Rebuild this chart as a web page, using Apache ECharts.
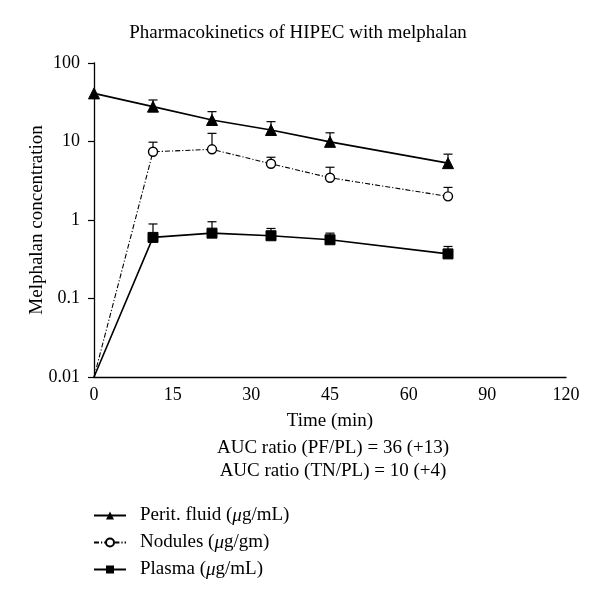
<!DOCTYPE html>
<html>
<head>
<meta charset="utf-8">
<script src="https://cdn.jsdelivr.net/npm/echarts@6/dist/echarts.min.js"></script>
<style>html,body{margin:0;padding:0;background:#fff}#c{width:600px;height:600px}</style>
</head>
<body>
<div id="c"></div>
<script>
// ---- data ----
const times = [0, 15, 30, 45, 60, 90];
const xTickLabels = ['0', '15', '30', '45', '60', '90', '120'];
const yTickLabels = ['0.01', '0.1', '1', '10', '100'];
const seriesNames = ['Perit. fluid (μg/mL)', 'Nodules (μg/gm)', 'Plasma (μg/mL)'];
const peritFluid = [41, 27.8, 18.8, 14.0, 9.9, 5.3];
const peritFluidUpper = [null, 33.8, 24.0, 17.9, 12.9, 6.9];
const nodules = [0.01, 7.4, 7.95, 5.2, 3.45, 2.0];
const nodulesUpper = [null, 9.8, 12.7, 6.3, 4.7, 2.6];
const plasma = [0.01, 0.60, 0.68, 0.63, 0.56, 0.37];
const plasmaUpper = [null, 0.89, 0.95, 0.78, 0.68, 0.46];
const aucLines = ['AUC ratio (PF/PL) = 36 (+13)', 'AUC ratio (TN/PL) = 10 (+4)'];

const FONT = 'Liberation Serif';

function lineData(vals, hideZeroMarker) {
  return times.map((t, i) => {
    const item = { value: [t, vals[i]] };
    if (hideZeroMarker && i === 0) item.symbol = 'none';
    return item;
  });
}
function errData(upper, vals) {
  const out = [];
  times.forEach((t, i) => { if (upper[i] != null) out.push([t, vals[i], upper[i]]); });
  return out;
}
function errSeries(upper, vals) {
  return {
    type: 'custom',
    silent: true,
    z: 1,
    data: errData(upper, vals),
    renderItem: function (params, api) {
      const p = api.coord([api.value(0), api.value(1)]);
      const t = api.coord([api.value(0), api.value(2)]);
      const st = { stroke: '#000', lineWidth: 1.2 };
      return {
        type: 'group',
        children: [
          { type: 'line', shape: { x1: p[0], y1: p[1], x2: t[0], y2: t[1] }, style: st },
          { type: 'line', shape: { x1: t[0] - 4.5, y1: t[1], x2: t[0] + 4.5, y2: t[1] }, style: st }
        ]
      };
    }
  };
}

const chart = echarts.init(document.getElementById('c'), null, { renderer: 'canvas' });
chart.setOption({
  animation: false,
  backgroundColor: '#fff',
  textStyle: { fontFamily: FONT, color: '#000' },
  title: {
    text: 'Pharmacokinetics of HIPEC with melphalan',
    left: 293, top: 19, textAlign: 'center',
    textStyle: { fontFamily: FONT, fontSize: 19, fontWeight: 'normal', color: '#000' }
  },
  grid: { left: 94, right: 34, top: 63, bottom: 223, containLabel: false },
  xAxis: {
    type: 'value', min: 0, max: 120, interval: 20,
    name: 'Time (min)', nameLocation: 'middle', nameGap: 35,
    nameTextStyle: { fontFamily: FONT, fontSize: 19, color: '#000' },
    axisLine: { lineStyle: { color: '#000', width: 1.3 } },
    axisTick: { show: false },
    splitLine: { show: false },
    axisLabel: {
      fontFamily: FONT, fontSize: 18, color: '#000', margin: 9,
      formatter: v => xTickLabels[Math.round(v / 20)]
    }
  },
  yAxis: {
    type: 'log', logBase: 10, min: 0.01, max: 100,
    name: 'Melphalan concentration', nameLocation: 'middle', nameGap: 47,
    nameMoveOverlap: false,
    nameTextStyle: { fontFamily: FONT, fontSize: 19, color: '#000' },
    axisLine: { show: true, lineStyle: { color: '#000', width: 1.3 } },
    axisTick: { show: true, length: 6, lineStyle: { color: '#000', width: 1.2 } },
    splitLine: { show: false },
    minorTick: { show: false },
    axisLabel: {
      fontFamily: FONT, fontSize: 18, color: '#000', margin: 14,
      formatter: v => yTickLabels[Math.round(Math.log10(v)) + 2]
    }
  },
  legend: {
    orient: 'vertical', left: 88, top: 501, itemWidth: 32, itemHeight: 10, itemGap: 8,
    data: seriesNames,
    textStyle: {
      fontFamily: FONT, fontSize: 19, color: '#000', lineHeight: 19, padding: [0, 0, 0, 9],
      rich: { i: { fontFamily: FONT, fontStyle: 'italic', fontSize: 19 } }
    },
    formatter: n => n.replace('μ', '{i|μ}')
  },
  graphic: aucLines.map((s, i) => ({
    type: 'text', x: 333, y: 448 + i * 23,
    style: { text: s, font: '19px "' + FONT + '"', fill: '#000', textAlign: 'center', textVerticalAlign: 'middle' }
  })),
  series: [
    {
      name: seriesNames[0], type: 'line', data: lineData(peritFluid, false),
      symbol: 'triangle', symbolSize: 11, z: 3,
      lineStyle: { color: '#000', width: 1.6 },
      itemStyle: { color: '#000', borderColor: '#000' }
    },
    {
      name: seriesNames[1], type: 'line', data: lineData(nodules, true),
      symbol: 'circle', symbolSize: 9, z: 3,
      lineStyle: { color: '#000', width: 1.1, type: [5, 2, 1.2, 2] },
      itemStyle: { color: '#fff', borderColor: '#000', borderWidth: 1.4 }
    },
    {
      name: seriesNames[2], type: 'line', data: lineData(plasma, true),
      symbol: 'rect', symbolSize: 10, z: 3,
      lineStyle: { color: '#000', width: 1.6 },
      itemStyle: { color: '#000', borderColor: '#000' }
    },
    errSeries(peritFluidUpper, peritFluid),
    errSeries(nodulesUpper, nodules),
    errSeries(plasmaUpper, plasma)
  ]
});
</script>
</body>
</html>
